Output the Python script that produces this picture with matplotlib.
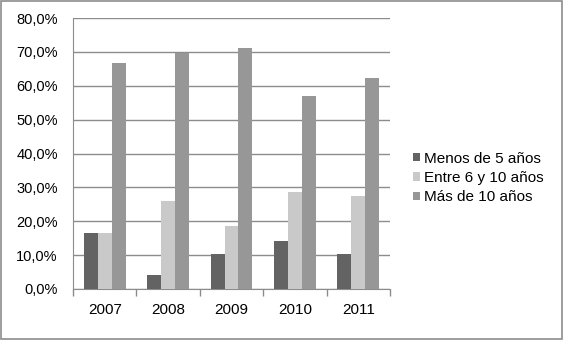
import numpy as np
import matplotlib.pyplot as plt
from matplotlib.patches import Rectangle
from matplotlib.ticker import FuncFormatter, FixedLocator

years = ['2007', '2008', '2009', '2010', '2011']
menos_5 = [16.6, 4.2, 10.2, 14.3, 10.2]
entre_6_10 = [16.6, 26.1, 18.5, 28.6, 27.5]
mas_10 = [66.7, 69.6, 71.1, 57.0, 62.3]

series = [
    ('Menos de 5 años', menos_5, '#636363'),
    ('Entre 6 y 10 años', entre_6_10, '#c9c9c9'),
    ('Más de 10 años', mas_10, '#979797'),
]

plt.rcParams['font.family'] = ['Liberation Sans', 'DejaVu Sans']

fig = plt.figure(figsize=(5.63, 3.40), dpi=100)
fig.patches.append(Rectangle((0.002, 0.003), 0.996, 0.994, transform=fig.transFigure,
                             fill=False, edgecolor='#8c8c8c', linewidth=1.2))
ax = fig.add_axes([0.1297, 0.15, 0.563, 0.797])

x = np.arange(len(years))
w = 0.22
for i, (label, vals, color) in enumerate(series):
    ax.bar(x + (i - 1) * w, vals, width=w, color=color, label=label, zorder=3)

ax.set_xlim(-0.5, len(years) - 0.5)
ax.set_ylim(0, 80)
ax.set_yticks(np.arange(0, 81, 10))
ax.yaxis.set_major_formatter(FuncFormatter(lambda v, p: f'{v:.1f}%'.replace('.', ',')))
ax.yaxis.grid(True, color='#8c8c8c', linewidth=1.0, zorder=0)
ax.set_xticks(x)
ax.set_xticklabels(years)
ax.xaxis.set_minor_locator(FixedLocator(np.arange(-0.5, len(years), 1)))
ax.tick_params(axis='x', which='major', length=0, pad=10, labelsize=11)
ax.tick_params(axis='x', which='minor', length=5, color='#8c8c8c', width=1.0)
ax.tick_params(axis='y', length=0, pad=11, labelsize=10.5)

for s in ['top', 'right']:
    ax.spines[s].set_visible(False)
ax.spines['left'].set_color('#8c8c8c')
ax.spines['bottom'].set_color('#8c8c8c')

ax.legend(loc='center left', bbox_to_anchor=(1.03, 0.41), frameon=False,
          fontsize=11, handlelength=0.45, handleheight=0.45, handletextpad=0.25,
          labelspacing=0.35)

fig.savefig('out.png', dpi=100)
